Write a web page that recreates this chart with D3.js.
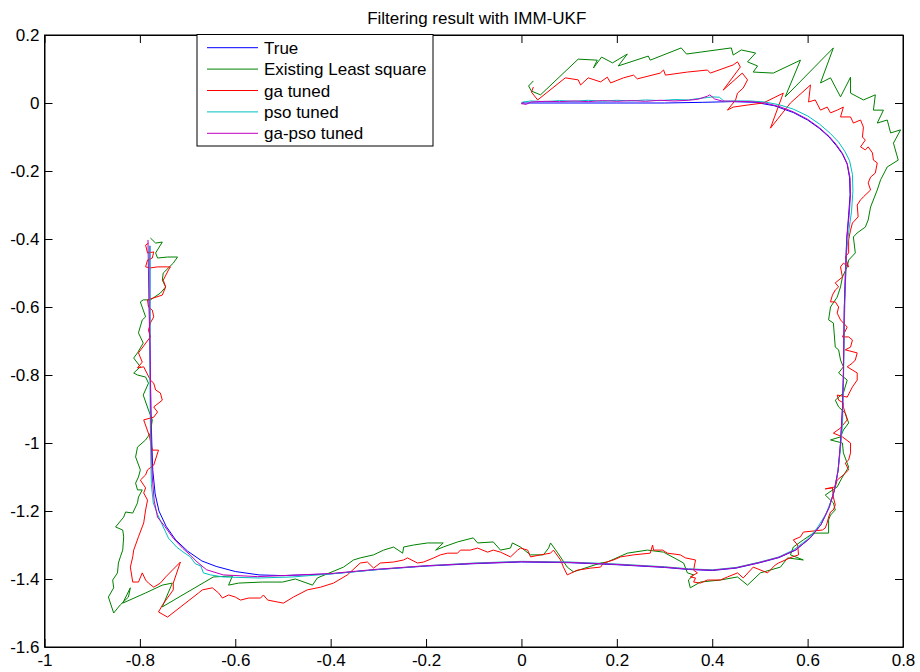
<!DOCTYPE html>
<html>
<head>
<meta charset="utf-8">
<script src="https://cdn.jsdelivr.net/npm/d3@7"></script>
<style>
  html, body { margin: 0; padding: 0; background: #ffffff; }
  svg { display: block; font-family: "Liberation Sans", Arial, Helvetica, sans-serif; }
</style>
</head>
<body>
<svg id="chart" width="920" height="672"></svg>
<script>
// Axis ticks and their printed labels
const xTicks = [-1, -0.8, -0.6, -0.4, -0.2, 0, 0.2, 0.4, 0.6, 0.8];
const xTickLabels = ["-1", "-0.8", "-0.6", "-0.4", "-0.2", "0", "0.2", "0.4", "0.6", "0.8"];
const yTicks = [0.2, 0, -0.2, -0.4, -0.6, -0.8, -1, -1.2, -1.4, -1.6];
const yTickLabels = ["0.2", "0", "-0.2", "-0.4", "-0.6", "-0.8", "-1", "-1.2", "-1.4", "-1.6"];

const seriesNames = ["True", "Existing Least square", "ga tuned", "pso tuned", "ga-pso tuned"];
const seriesColors = ["#0000ff", "#008000", "#ff0000", "#00bfbf", "#bf00bf"];

// True trajectory
const trueX = [0, 0.1, 0.2, 0.3, 0.38, 0.44, 0.49, 0.53, 0.57, 0.6, 0.625, 0.645, 0.66, 0.673, 0.683, 0.688, 0.689, 0.686, 0.682, 0.679, 0.677, 0.676, 0.675, 0.673, 0.669, 0.664, 0.656, 0.645, 0.628, 0.605, 0.575, 0.54, 0.5, 0.45, 0.4, 0.35, 0.3, 0.2, 0.1, 0, -0.1, -0.2, -0.3, -0.4, -0.5, -0.55, -0.6, -0.64, -0.67, -0.7, -0.725, -0.745, -0.76, -0.768, -0.773, -0.775, -0.777, -0.778, -0.779, -0.779, -0.779, -0.779];
const trueY = [0, 0, 0, 0, 0.002, 0.004, 0.002, -0.008, -0.028, -0.05, -0.075, -0.1, -0.125, -0.15, -0.18, -0.22, -0.27, -0.33, -0.4, -0.5, -0.6, -0.7, -0.8, -0.9, -1.0, -1.08, -1.14, -1.19, -1.24, -1.28, -1.315, -1.337, -1.352, -1.368, -1.375, -1.372, -1.366, -1.358, -1.352, -1.35, -1.355, -1.362, -1.372, -1.385, -1.39, -1.388, -1.378, -1.363, -1.347, -1.318, -1.285, -1.245, -1.2, -1.15, -1.08, -1.0, -0.9, -0.8, -0.7, -0.6, -0.5, -0.42];

// Existing least-square estimate
const lsX = [0.025, 0.015, 0.021, 0.040, 0.119, 0.159, 0.151, 0.168, 0.191, 0.222, 0.203, 0.266, 0.270, 0.335, 0.346, 0.377, 0.440, 0.444, 0.461, 0.491, 0.474, 0.495, 0.486, 0.528, 0.585, 0.553, 0.654, 0.627, 0.648, 0.669, 0.690, 0.690, 0.717, 0.742, 0.738, 0.759, 0.746, 0.767, 0.774, 0.795, 0.780, 0.790, 0.767, 0.753, 0.746, 0.732, 0.727, 0.721, 0.704, 0.696, 0.700, 0.686, 0.683, 0.673, 0.669, 0.662, 0.648, 0.644, 0.654, 0.658, 0.665, 0.669, 0.675, 0.665, 0.683, 0.675, 0.658, 0.665, 0.679, 0.686, 0.675, 0.669, 0.648, 0.673, 0.675, 0.686, 0.673, 0.662, 0.637, 0.654, 0.658, 0.648, 0.644, 0.644, 0.612, 0.591, 0.570, 0.564, 0.591, 0.558, 0.543, 0.501, 0.474, 0.453, 0.417, 0.375, 0.354, 0.350, 0.361, 0.348, 0.340, 0.298, 0.264, 0.222, 0.180, 0.166, 0.109, 0.096, 0.075, 0.061, 0.057, 0.046, 0.019, -0.002, -0.019, -0.023, -0.044, -0.059, -0.092, -0.101, -0.134, -0.164, -0.180, -0.164, -0.197, -0.226, -0.247, -0.249, -0.268, -0.289, -0.310, -0.338, -0.352, -0.373, -0.428, -0.438, -0.474, -0.501, -0.543, -0.593, -0.614, -0.606, -0.646, -0.753, -0.732, -0.753, -0.788, -0.836, -0.820, -0.824, -0.841, -0.855, -0.866, -0.855, -0.857, -0.847, -0.845, -0.841, -0.836, -0.834, -0.836, -0.851, -0.834, -0.830, -0.815, -0.805, -0.803, -0.795, -0.805, -0.809, -0.803, -0.799, -0.809, -0.805, -0.788, -0.778, -0.774, -0.782, -0.793, -0.782, -0.788, -0.805, -0.813, -0.799, -0.813, -0.805, -0.793, -0.799, -0.803, -0.795, -0.788, -0.793, -0.799, -0.793, -0.778, -0.757, -0.746, -0.753, -0.751, -0.730, -0.721, -0.742, -0.763, -0.767, -0.753, -0.767, -0.778];
const lsY = [0.065, 0.050, 0.035, 0.024, 0.129, 0.126, 0.103, 0.135, 0.118, 0.144, 0.109, 0.138, 0.126, 0.162, 0.144, 0.150, 0.162, 0.141, 0.156, 0.147, 0.121, 0.109, 0.091, 0.088, 0.126, 0.018, 0.162, 0.059, 0.074, 0.018, 0.076, 0.029, 0.009, 0.024, -0.021, -0.021, -0.059, -0.050, -0.088, -0.079, -0.118, -0.168, -0.188, -0.226, -0.256, -0.306, -0.344, -0.365, -0.382, -0.394, -0.441, -0.462, -0.482, -0.512, -0.541, -0.571, -0.600, -0.638, -0.647, -0.718, -0.726, -0.756, -0.776, -0.794, -0.815, -0.853, -0.874, -0.894, -0.912, -0.941, -0.962, -0.982, -0.991, -1.000, -1.029, -1.071, -1.100, -1.129, -1.153, -1.176, -1.197, -1.212, -1.226, -1.265, -1.265, -1.285, -1.306, -1.329, -1.344, -1.338, -1.365, -1.382, -1.418, -1.394, -1.403, -1.409, -1.426, -1.403, -1.388, -1.382, -1.353, -1.321, -1.315, -1.324, -1.350, -1.353, -1.379, -1.365, -1.321, -1.294, -1.309, -1.329, -1.329, -1.306, -1.294, -1.309, -1.315, -1.291, -1.294, -1.279, -1.291, -1.306, -1.315, -1.294, -1.294, -1.300, -1.306, -1.324, -1.306, -1.315, -1.329, -1.338, -1.344, -1.365, -1.397, -1.418, -1.400, -1.409, -1.409, -1.412, -1.418, -1.391, -1.394, -1.482, -1.412, -1.418, -1.441, -1.471, -1.426, -1.453, -1.476, -1.500, -1.453, -1.426, -1.403, -1.382, -1.353, -1.335, -1.315, -1.276, -1.256, -1.247, -1.218, -1.203, -1.206, -1.176, -1.159, -1.138, -1.138, -1.118, -1.100, -1.079, -1.041, -1.012, -0.991, -0.971, -0.932, -0.903, -0.859, -0.824, -0.806, -0.800, -0.794, -0.776, -0.750, -0.735, -0.706, -0.688, -0.676, -0.638, -0.629, -0.609, -0.585, -0.579, -0.579, -0.559, -0.541, -0.521, -0.500, -0.471, -0.453, -0.453, -0.456, -0.441, -0.409, -0.412, -0.397];

// GA-tuned filter estimate
const gaX = [0.025, 0.021, 0.034, 0.092, 0.119, 0.124, 0.140, 0.166, 0.180, 0.187, 0.214, 0.235, 0.243, 0.291, 0.298, 0.302, 0.348, 0.390, 0.396, 0.444, 0.453, 0.459, 0.423, 0.463, 0.474, 0.465, 0.453, 0.449, 0.432, 0.444, 0.474, 0.507, 0.549, 0.522, 0.564, 0.606, 0.602, 0.616, 0.627, 0.641, 0.648, 0.662, 0.675, 0.669, 0.690, 0.696, 0.711, 0.717, 0.715, 0.721, 0.711, 0.721, 0.727, 0.736, 0.738, 0.746, 0.742, 0.732, 0.727, 0.732, 0.717, 0.711, 0.704, 0.706, 0.694, 0.690, 0.686, 0.686, 0.679, 0.686, 0.675, 0.669, 0.673, 0.658, 0.665, 0.658, 0.652, 0.648, 0.658, 0.665, 0.662, 0.669, 0.683, 0.673, 0.686, 0.694, 0.690, 0.679, 0.704, 0.700, 0.694, 0.683, 0.704, 0.704, 0.694, 0.683, 0.662, 0.665, 0.675, 0.675, 0.683, 0.669, 0.654, 0.673, 0.690, 0.690, 0.686, 0.679, 0.686, 0.675, 0.662, 0.658, 0.637, 0.652, 0.654, 0.658, 0.654, 0.648, 0.644, 0.641, 0.637, 0.631, 0.591, 0.585, 0.570, 0.579, 0.581, 0.568, 0.539, 0.532, 0.516, 0.486, 0.465, 0.453, 0.432, 0.417, 0.390, 0.375, 0.361, 0.365, 0.354, 0.369, 0.361, 0.365, 0.344, 0.333, 0.306, 0.296, 0.277, 0.275, 0.270, 0.235, 0.208, 0.193, 0.172, 0.166, 0.145, 0.117, 0.096, 0.088, 0.082, 0.067, 0.061, 0.040, 0.019, 0.013, -0.002, -0.008, -0.023, -0.044, -0.059, -0.071, -0.092, -0.107, -0.128, -0.134, -0.155, -0.170, -0.184, -0.205, -0.218, -0.239, -0.247, -0.268, -0.296, -0.310, -0.323, -0.338, -0.365, -0.394, -0.421, -0.449, -0.478, -0.499, -0.532, -0.541, -0.547, -0.572, -0.589, -0.600, -0.614, -0.627, -0.635, -0.648, -0.669, -0.677, -0.742, -0.761, -0.752, -0.730, -0.730, -0.715, -0.746, -0.757, -0.771, -0.782, -0.788, -0.795, -0.803, -0.815, -0.820, -0.815, -0.813, -0.803, -0.792, -0.788, -0.784, -0.792, -0.788, -0.792, -0.799, -0.788, -0.784, -0.771, -0.761, -0.774, -0.780, -0.792, -0.771, -0.763, -0.771, -0.753, -0.757, -0.767, -0.771, -0.778, -0.792, -0.805, -0.795, -0.803, -0.778, -0.782, -0.778, -0.771, -0.774, -0.782, -0.784, -0.753, -0.746, -0.751, -0.740, -0.736, -0.763, -0.778, -0.788, -0.784, -0.774, -0.771, -0.784, -0.788, -0.782];
const gaY = [0.047, 0.032, 0.009, 0.074, 0.068, 0.053, 0.074, 0.062, 0.076, 0.059, 0.074, 0.082, 0.071, 0.088, 0.097, 0.082, 0.091, 0.097, 0.088, 0.112, 0.121, 0.106, 0.038, 0.088, 0.068, 0.044, 0.029, 0.009, -0.021, -0.012, -0.006, 0.000, 0.029, -0.074, 0.000, 0.053, 0.003, 0.009, -0.021, -0.012, -0.029, -0.021, -0.012, -0.041, -0.041, -0.059, -0.050, -0.071, -0.100, -0.109, -0.129, -0.138, -0.129, -0.147, -0.168, -0.176, -0.206, -0.218, -0.235, -0.256, -0.276, -0.285, -0.300, -0.335, -0.353, -0.374, -0.403, -0.441, -0.453, -0.482, -0.471, -0.482, -0.512, -0.529, -0.541, -0.550, -0.565, -0.585, -0.585, -0.600, -0.618, -0.638, -0.659, -0.688, -0.688, -0.697, -0.718, -0.726, -0.735, -0.756, -0.765, -0.776, -0.794, -0.815, -0.835, -0.865, -0.859, -0.874, -0.882, -0.894, -0.932, -0.956, -0.971, -0.982, -1.000, -1.029, -1.050, -1.059, -1.079, -1.094, -1.109, -1.129, -1.135, -1.132, -1.159, -1.182, -1.197, -1.203, -1.218, -1.235, -1.250, -1.256, -1.262, -1.276, -1.285, -1.300, -1.329, -1.335, -1.353, -1.359, -1.382, -1.365, -1.397, -1.382, -1.394, -1.403, -1.403, -1.412, -1.409, -1.397, -1.394, -1.382, -1.374, -1.344, -1.338, -1.329, -1.324, -1.315, -1.315, -1.300, -1.324, -1.329, -1.335, -1.344, -1.353, -1.365, -1.368, -1.374, -1.388, -1.365, -1.344, -1.315, -1.324, -1.329, -1.335, -1.315, -1.309, -1.315, -1.335, -1.321, -1.315, -1.321, -1.309, -1.315, -1.315, -1.324, -1.324, -1.329, -1.338, -1.350, -1.353, -1.338, -1.344, -1.350, -1.353, -1.368, -1.350, -1.353, -1.388, -1.412, -1.424, -1.432, -1.453, -1.471, -1.462, -1.447, -1.456, -1.456, -1.462, -1.453, -1.447, -1.456, -1.441, -1.426, -1.432, -1.441, -1.512, -1.497, -1.475, -1.432, -1.412, -1.350, -1.394, -1.412, -1.424, -1.412, -1.403, -1.382, -1.409, -1.409, -1.365, -1.335, -1.315, -1.276, -1.235, -1.197, -1.168, -1.147, -1.132, -1.124, -1.109, -1.094, -1.079, -1.065, -1.021, -1.021, -0.980, -0.932, -0.924, -0.909, -0.894, -0.874, -0.853, -0.844, -0.824, -0.815, -0.776, -0.779, -0.762, -0.735, -0.688, -0.668, -0.647, -0.629, -0.609, -0.600, -0.579, -0.565, -0.541, -0.521, -0.491, -0.482, -0.482, -0.485, -0.482, -0.462, -0.456, -0.438, -0.441, -0.418, -0.412];

// PSO-tuned filter estimate
const psoX = [0, 0.02, 0.05, 0.08, 0.11, 0.14, 0.17, 0.2, 0.23, 0.26, 0.29, 0.32, 0.35, 0.37, 0.39, 0.40, 0.415, 0.425, 0.45, 0.48, 0.51, 0.54, 0.57, 0.6, 0.625, 0.648, 0.665, 0.678, 0.688, 0.694, 0.695, 0.692, 0.686, 0.681, 0.679, 0.677, 0.676, 0.675, 0.673, 0.668, 0.662, 0.652, 0.638, 0.62, 0.6, 0.57, 0.54, 0.5, 0.45, 0.4, 0.35, 0.3, 0.2, 0.1, 0, -0.1, -0.2, -0.3, -0.4, -0.48, -0.55, -0.625, -0.652, -0.667, -0.672, -0.684, -0.694, -0.71, -0.723, -0.74, -0.751, -0.763, -0.772, -0.776, -0.777, -0.778, -0.779, -0.779, -0.779, -0.779];
const psoY = [0.002, 0.006, 0.004, 0.007, 0.005, 0.008, 0.005, 0.008, 0.006, 0.009, 0.007, 0.010, 0.009, 0.013, 0.016, 0.018, 0.017, 0.005, 0.006, 0.006, 0.003, -0.005, -0.018, -0.038, -0.062, -0.09, -0.115, -0.142, -0.17, -0.21, -0.26, -0.32, -0.38, -0.45, -0.55, -0.65, -0.75, -0.85, -0.95, -1.03, -1.1, -1.16, -1.21, -1.25, -1.283, -1.315, -1.335, -1.35, -1.366, -1.373, -1.37, -1.364, -1.356, -1.35, -1.348, -1.353, -1.361, -1.372, -1.385, -1.394, -1.397, -1.394, -1.388, -1.382, -1.362, -1.355, -1.335, -1.32, -1.306, -1.28, -1.247, -1.21, -1.176, -1.12, -1.05, -0.95, -0.8, -0.65, -0.5, -0.42];

// GA-PSO-tuned filter estimate
const gapsoX = [0.006, 0.0, 0.01, 0.02, 0.05, 0.08, 0.11, 0.14, 0.17, 0.2, 0.23, 0.26, 0.29, 0.32, 0.35, 0.37, 0.39, 0.395, 0.405, 0.42, 0.45, 0.48, 0.51, 0.54, 0.57, 0.6, 0.625, 0.645, 0.66, 0.673, 0.683, 0.689, 0.69, 0.687, 0.682, 0.68, 0.677, 0.676, 0.675, 0.673, 0.669, 0.664, 0.656, 0.645, 0.628, 0.605, 0.575, 0.54, 0.5, 0.45, 0.4, 0.35, 0.3, 0.2, 0.1, 0, -0.1, -0.2, -0.3, -0.4, -0.5, -0.553, -0.625, -0.66, -0.68, -0.694, -0.71, -0.73, -0.748, -0.763, -0.77, -0.774, -0.776, -0.777, -0.778, -0.779, -0.781, -0.782, -0.783];
const gapsoY = [0.002, -0.002, -0.004, 0.003, 0.005, 0.004, 0.006, 0.004, 0.007, 0.005, 0.007, 0.005, 0.008, 0.006, 0.008, 0.011, 0.02, 0.024, 0.012, 0.006, 0.005, 0.004, 0.0, -0.01, -0.026, -0.048, -0.073, -0.098, -0.122, -0.148, -0.178, -0.22, -0.27, -0.33, -0.4, -0.5, -0.6, -0.7, -0.8, -0.9, -1.0, -1.08, -1.14, -1.19, -1.24, -1.28, -1.314, -1.336, -1.351, -1.367, -1.374, -1.371, -1.365, -1.357, -1.351, -1.349, -1.354, -1.361, -1.371, -1.384, -1.39, -1.393, -1.388, -1.373, -1.35, -1.33, -1.31, -1.28, -1.245, -1.218, -1.17, -1.1, -1.0, -0.9, -0.8, -0.7, -0.6, -0.5, -0.403];

const seriesX = [trueX, lsX, gaX, psoX, gapsoX];
const seriesY = [trueY, lsY, gaY, psoY, gapsoY];

// Layout
const W = 920, H = 672;
const plot = { left: 44.5, right: 903, top: 35, bottom: 647 };
const fontSize = 17;

const svg = d3.select("#chart");
svg.append("rect").attr("width", W).attr("height", H).attr("fill", "#ffffff");

const x = d3.scaleLinear().domain([-1, 0.8]).range([plot.left, plot.right]);
const y = d3.scaleLinear().domain([-1.6, 0.2]).range([plot.bottom, plot.top]);

// Data lines
const line = d3.line().x(d => x(d[0])).y(d => y(d[1]));
const lines = svg.append("g").attr("class", "lines");
seriesX.forEach((xs, i) => {
  const pts = xs.map((v, j) => [v, seriesY[i][j]]);
  lines.append("path")
    .datum(pts)
    .attr("fill", "none")
    .attr("stroke", seriesColors[i])
    .attr("stroke-width", 1)
    .attr("stroke-linejoin", "miter")
    .attr("d", line);
});

// Axes: ticks point inward on all four sides
const tickLen = 8;
const fmtX = (d, i) => xTickLabels[i];
const fmtY = (d, i) => yTickLabels[i];

const axB = svg.append("g").attr("transform", `translate(0,${plot.bottom})`)
  .call(d3.axisBottom(x).tickValues(xTicks).tickFormat(fmtX).tickSizeInner(-tickLen).tickSizeOuter(0).tickPadding(7));
const axT = svg.append("g").attr("transform", `translate(0,${plot.top})`)
  .call(d3.axisTop(x).tickValues(xTicks).tickFormat("").tickSizeInner(-tickLen).tickSizeOuter(0));
const axL = svg.append("g").attr("transform", `translate(${plot.left},0)`)
  .call(d3.axisLeft(y).tickValues(yTicks).tickFormat(fmtY).tickSizeInner(-tickLen).tickSizeOuter(0).tickPadding(5));
const axR = svg.append("g").attr("transform", `translate(${plot.right},0)`)
  .call(d3.axisRight(y).tickValues(yTicks).tickFormat("").tickSizeInner(-tickLen).tickSizeOuter(0));

[axB, axT, axL, axR].forEach(g => {
  g.selectAll(".domain").attr("stroke", "#000");
  g.selectAll(".tick line").attr("stroke", "#000");
  g.selectAll("text").attr("font-size", fontSize).attr("fill", "#000")
    .attr("font-family", "'Liberation Sans', Arial, Helvetica, sans-serif");
});

// Axes box
svg.append("rect")
  .attr("x", plot.left).attr("y", plot.top)
  .attr("width", plot.right - plot.left).attr("height", plot.bottom - plot.top)
  .attr("fill", "none").attr("stroke", "#000").attr("stroke-width", 1);

// Title
svg.append("text")
  .attr("x", (plot.left + plot.right) / 2 + 3)
  .attr("y", 24)
  .attr("text-anchor", "middle")
  .attr("font-size", fontSize)
  .attr("fill", "#000")
  .text("Filtering result with IMM-UKF");

// Legend
const leg = { x: 197, y: 34.5, w: 236, h: 111.5, rowStart: 47.7, rowStep: 21.4 };
const lg = svg.append("g").attr("class", "legend");
lg.append("rect")
  .attr("x", leg.x).attr("y", leg.y).attr("width", leg.w).attr("height", leg.h)
  .attr("fill", "#fff").attr("stroke", "#000").attr("stroke-width", 1);
seriesNames.forEach((name, i) => {
  const yy = leg.rowStart + i * leg.rowStep;
  lg.append("line")
    .attr("x1", 207).attr("x2", 258).attr("y1", yy).attr("y2", yy)
    .attr("stroke", seriesColors[i]).attr("stroke-width", 1);
  lg.append("text")
    .attr("x", 264).attr("y", yy + 6)
    .attr("font-size", fontSize).attr("fill", "#000")
    .text(name);
});
</script>
</body>
</html>
